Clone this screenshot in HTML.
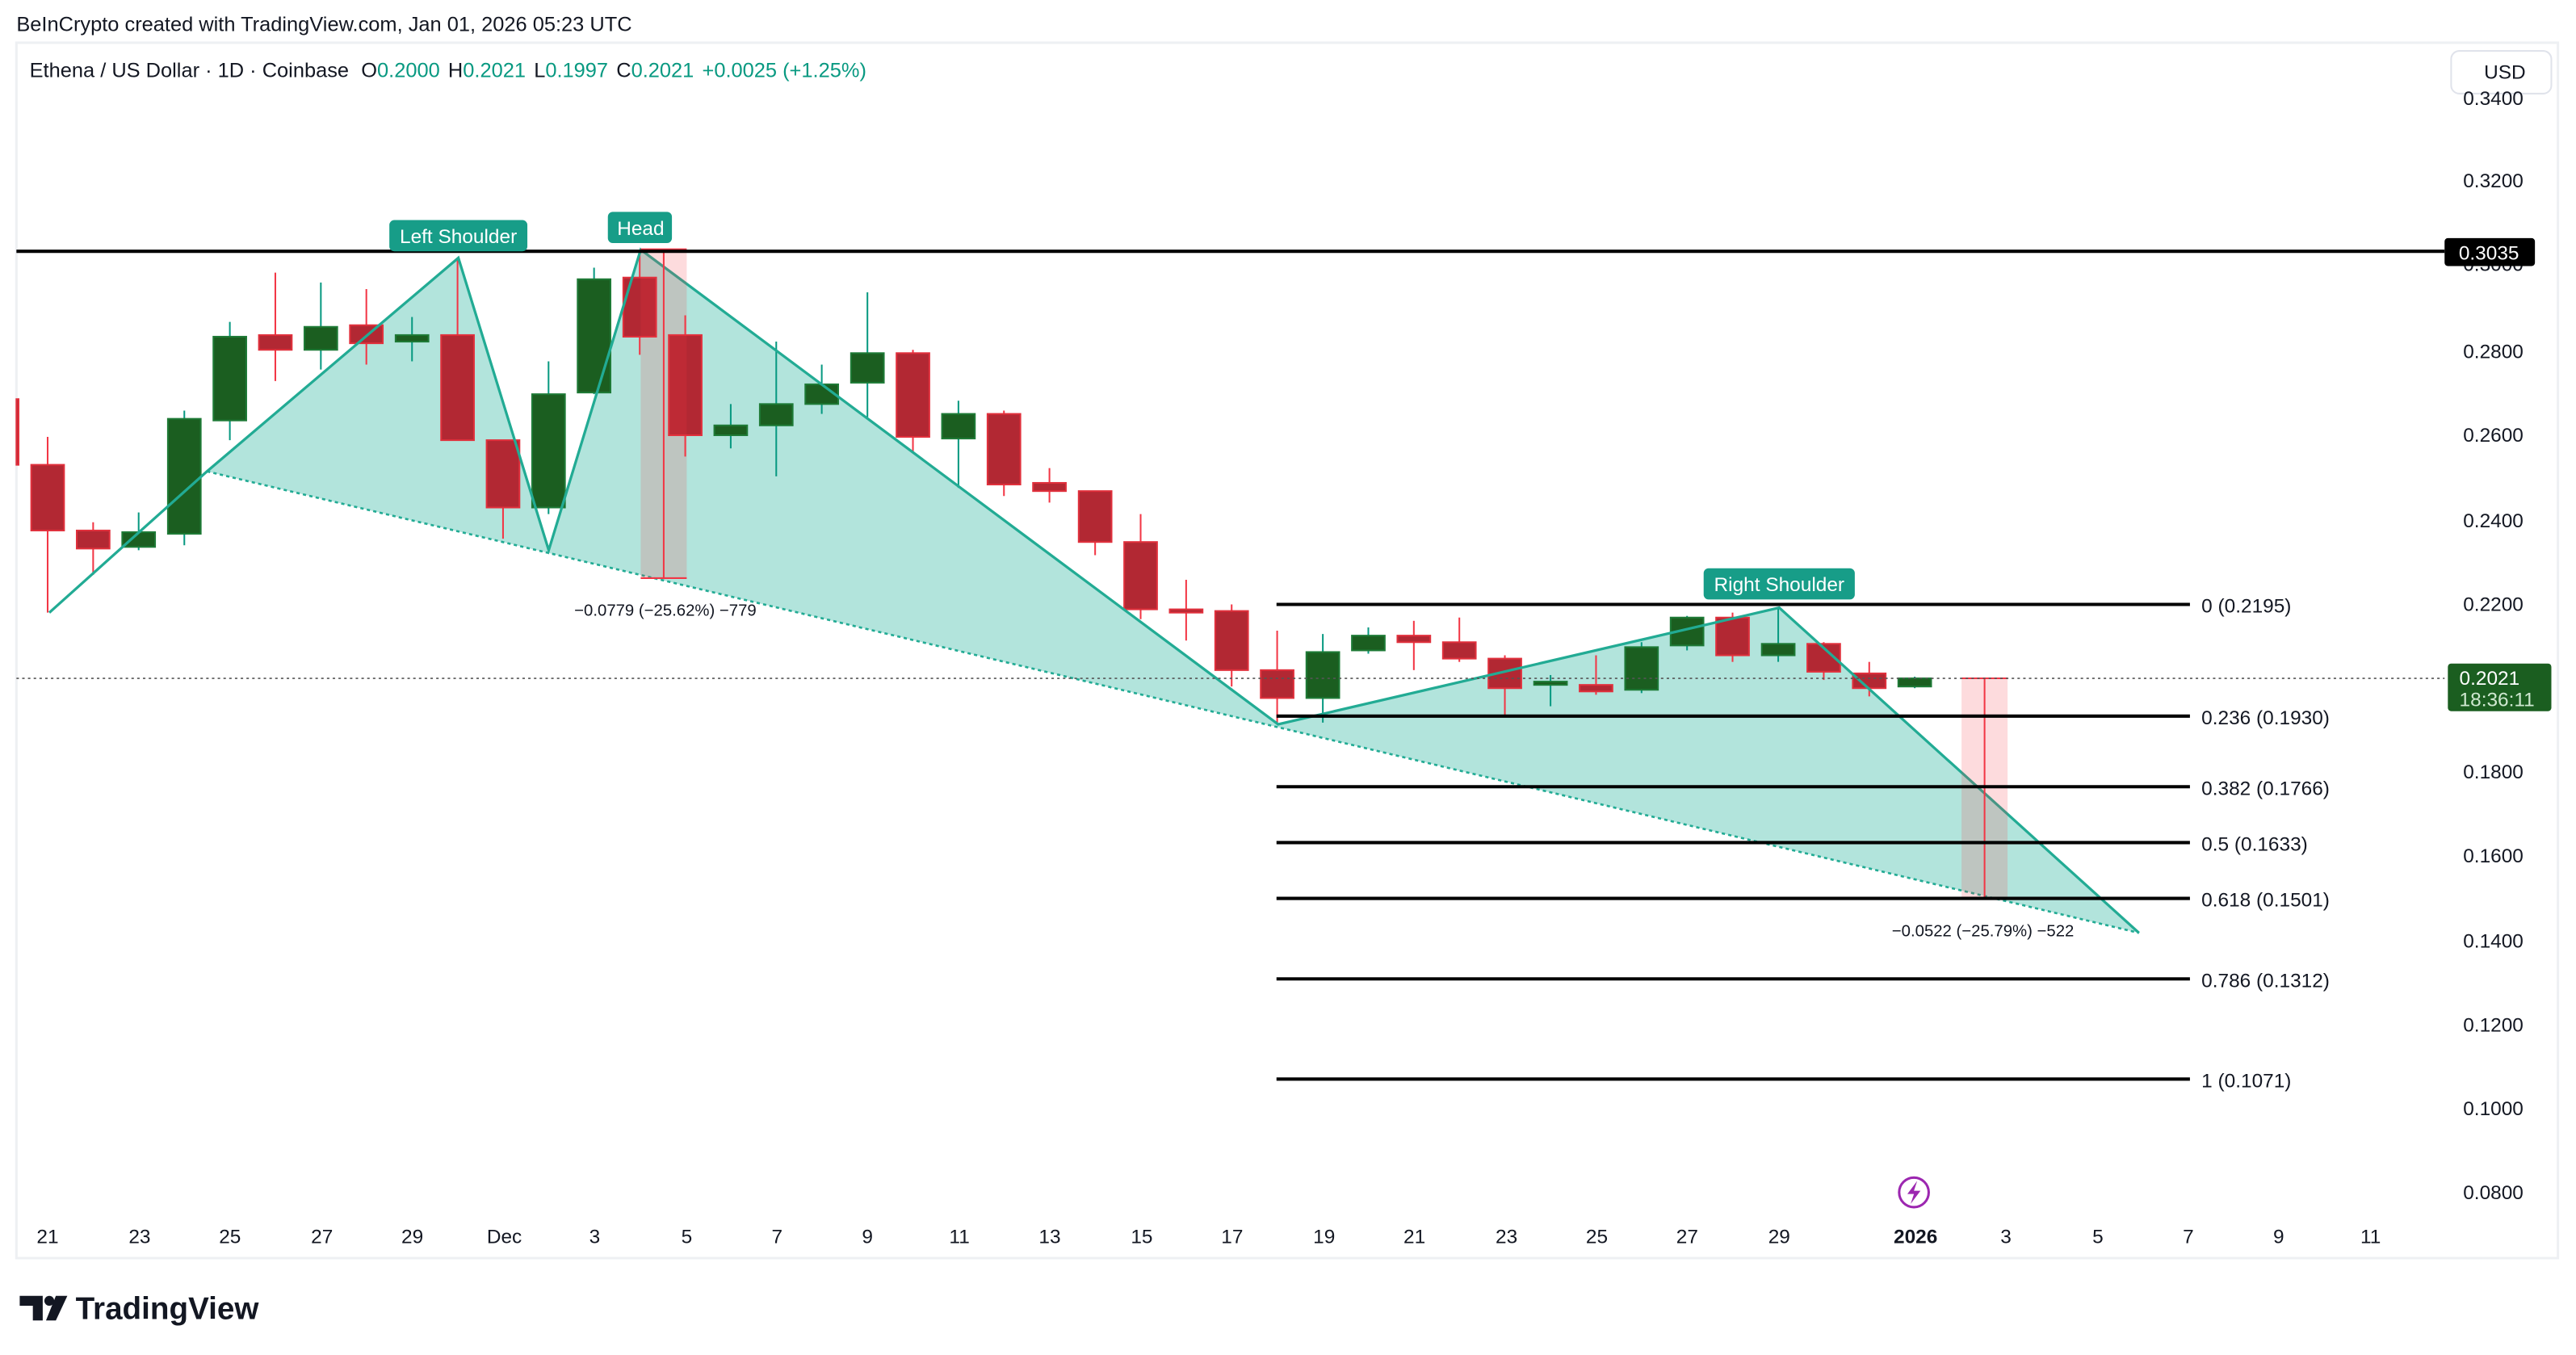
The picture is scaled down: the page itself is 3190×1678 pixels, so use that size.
<!DOCTYPE html>
<html><head><meta charset="utf-8"><style>
html,body{margin:0;padding:0;background:#fff}
svg{display:block}
text{font-family:"Liberation Sans",Arial,sans-serif}
</style></head><body>
<svg width="3190" height="1678" viewBox="0 0 1568 825" preserveAspectRatio="none" xmlns="http://www.w3.org/2000/svg">
<rect width="1568" height="825" fill="#fff"/>
<text x="10" y="19" font-size="12.5" fill="#131722">BeInCrypto created with TradingView.com, Jan 01, 2026 05:23 UTC</text>
<rect x="10" y="26" width="1547" height="740" fill="none" stroke="#eef0f3" stroke-width="1.5"/>
<text x="18" y="47" font-size="12.5" fill="#131722">Ethena / US Dollar · 1D · Coinbase <tspan dx="4">O</tspan><tspan fill="#089981">0.2000</tspan><tspan dx="5">H</tspan><tspan fill="#089981">0.2021</tspan><tspan dx="5">L</tspan><tspan fill="#089981">0.1997</tspan><tspan dx="5">C</tspan><tspan fill="#089981">0.2021</tspan><tspan dx="5" fill="#089981">+0.0025 (+1.25%)</tspan></text>
<rect x="1492" y="31" width="61" height="26" rx="5" fill="#fff" stroke="#e0e3eb"/>
<text x="1512" y="48" font-size="12" fill="#131722">USD</text>
<g font-size="12" fill="#131722" text-anchor="end">
<text x="1536" y="64">0.3400</text><text x="1536" y="114">0.3200</text><text x="1536" y="165">0.3000</text>
<text x="1536" y="218">0.2800</text><text x="1536" y="269">0.2600</text><text x="1536" y="321">0.2400</text>
<text x="1536" y="372">0.2200</text><text x="1536" y="474">0.1800</text><text x="1536" y="525">0.1600</text>
<text x="1536" y="577">0.1400</text><text x="1536" y="628">0.1200</text><text x="1536" y="679">0.1000</text><text x="1536" y="730">0.0800</text>
</g>
<rect x="1488" y="145" width="55" height="17" rx="2" fill="#000"/>
<text x="1515" y="158" font-size="12" fill="#fff" text-anchor="middle">0.3035</text>
<!-- H&S fill -->
<polygon points="126,287 279,157 334,335 390,152 778,441 1083,370 1302,568" fill="#b2e4dc"/>
<!-- candles: wicks -->
<g stroke="#f23645" stroke-width="1">
<line x1="29" y1="266" x2="29" y2="373"/><line x1="56.7" y1="318" x2="56.7" y2="350"/>
<line x1="167.6" y1="166" x2="167.6" y2="232"/><line x1="223" y1="176" x2="223" y2="222"/>
<line x1="278.5" y1="157" x2="278.5" y2="268"/><line x1="306.2" y1="268" x2="306.2" y2="328"/>
<line x1="389.4" y1="152" x2="389.4" y2="216"/><line x1="417.1" y1="192" x2="417.1" y2="278"/>
<line x1="555.7" y1="213" x2="555.7" y2="276"/><line x1="611.1" y1="250" x2="611.1" y2="302"/>
<line x1="638.8" y1="285" x2="638.8" y2="306"/><line x1="666.6" y1="299" x2="666.6" y2="338"/>
<line x1="694.3" y1="313" x2="694.3" y2="377"/><line x1="722" y1="353" x2="722" y2="390"/>
<line x1="749.7" y1="368" x2="749.7" y2="418"/><line x1="777.4" y1="384" x2="777.4" y2="440"/>
<line x1="860.6" y1="378" x2="860.6" y2="408"/><line x1="888.3" y1="376" x2="888.3" y2="403"/>
<line x1="916" y1="399" x2="916" y2="436"/><line x1="971.5" y1="399" x2="971.5" y2="423"/>
<line x1="1054.6" y1="373" x2="1054.6" y2="403"/><line x1="1110.1" y1="391" x2="1110.1" y2="414"/>
<line x1="1137.8" y1="403" x2="1137.8" y2="424"/>
</g>
<g stroke="#089981" stroke-width="1">
<line x1="84.4" y1="312" x2="84.4" y2="335"/><line x1="112.2" y1="250" x2="112.2" y2="332"/>
<line x1="139.9" y1="196" x2="139.9" y2="268"/><line x1="195.3" y1="172" x2="195.3" y2="225"/>
<line x1="250.8" y1="193" x2="250.8" y2="220"/><line x1="333.9" y1="220" x2="333.9" y2="313"/>
<line x1="361.6" y1="163" x2="361.6" y2="240"/><line x1="444.8" y1="246" x2="444.8" y2="273"/>
<line x1="472.5" y1="208" x2="472.5" y2="290"/><line x1="500.2" y1="222" x2="500.2" y2="252"/>
<line x1="528" y1="178" x2="528" y2="254"/><line x1="583.4" y1="244" x2="583.4" y2="297"/>
<line x1="805.2" y1="386" x2="805.2" y2="440"/><line x1="832.9" y1="382" x2="832.9" y2="398"/>
<line x1="943.8" y1="411" x2="943.8" y2="430"/><line x1="999.2" y1="391" x2="999.2" y2="422"/>
<line x1="1026.9" y1="375" x2="1026.9" y2="396"/><line x1="1082.4" y1="370" x2="1082.4" y2="403"/>
<line x1="1165.5" y1="412" x2="1165.5" y2="419"/>
</g>
<g fill="#b22833" stroke="#e0303c" stroke-width="1">
<rect x="10" y="243" width="1.3" height="40"/>
<rect x="19" y="283" width="20" height="40"/><rect x="46.7" y="323" width="20" height="11"/>
<rect x="157.6" y="204" width="20" height="9"/><rect x="213" y="198" width="20" height="11"/>
<rect x="268.5" y="204" width="20" height="64"/><rect x="296.2" y="268" width="20" height="41"/>
<rect x="379.4" y="169" width="20" height="36"/><rect x="407.1" y="204" width="20" height="61"/>
<rect x="545.7" y="215" width="20" height="51"/><rect x="601.1" y="252" width="20" height="43"/>
<rect x="628.8" y="294" width="20" height="5"/><rect x="656.6" y="299" width="20" height="31"/>
<rect x="684.3" y="330" width="20" height="41"/><rect x="712" y="371" width="20" height="2"/>
<rect x="739.7" y="372" width="20" height="36"/><rect x="767.4" y="408" width="20" height="17"/>
<rect x="850.6" y="387" width="20" height="4"/><rect x="878.3" y="391" width="20" height="10"/>
<rect x="906" y="401" width="20" height="18"/><rect x="961.5" y="417" width="20" height="4"/>
<rect x="1044.6" y="376" width="20" height="23"/><rect x="1100.1" y="392" width="20" height="17"/>
<rect x="1127.8" y="410" width="20" height="9"/>
</g>
<g fill="#1b5e20" stroke="#1e7a36" stroke-width="1">
<rect x="74.4" y="324" width="20" height="9"/><rect x="102.2" y="255" width="20" height="70"/>
<rect x="129.9" y="205" width="20" height="51"/><rect x="185.3" y="199" width="20" height="14"/>
<rect x="240.8" y="204" width="20" height="4"/><rect x="323.9" y="240" width="20" height="69"/>
<rect x="351.6" y="170" width="20" height="69"/><rect x="434.8" y="259" width="20" height="6"/>
<rect x="462.5" y="246" width="20" height="13"/><rect x="490.2" y="234" width="20" height="12"/>
<rect x="518" y="215" width="20" height="18"/><rect x="573.4" y="252" width="20" height="15"/>
<rect x="795.2" y="397" width="20" height="28"/><rect x="822.9" y="387" width="20" height="9"/>
<rect x="933.8" y="415" width="20" height="2"/><rect x="989.2" y="394" width="20" height="26"/>
<rect x="1016.9" y="376" width="20" height="17"/><rect x="1072.4" y="392" width="20" height="7"/>
<rect x="1155.5" y="413" width="20" height="5"/>
</g>
<polyline points="30,373 126,287 279,157 334,335 390,152 778,441 1083,370 1302,568" fill="none" stroke="#22ab94" stroke-width="1.6"/>
<line x1="126" y1="287" x2="1302" y2="568" stroke="#22ab94" stroke-width="1.3" stroke-dasharray="2,2"/>
<!-- measure boxes -->
<rect x="390" y="152" width="28" height="200" fill="#f23645" fill-opacity="0.18"/>
<line x1="404" y1="152" x2="404" y2="352" stroke="#f23645" stroke-width="1"/>
<line x1="390" y1="152" x2="418" y2="152" stroke="#f23645" stroke-width="1.5"/>
<line x1="390" y1="352" x2="418" y2="352" stroke="#f23645" stroke-width="1"/>
<text x="405" y="375" font-size="10" fill="#131722" text-anchor="middle">−0.0779 (−25.62%) −779</text>
<rect x="1194" y="413" width="28" height="134" fill="#f23645" fill-opacity="0.18"/>
<line x1="1208" y1="413" x2="1208" y2="547" stroke="#f23645" stroke-width="1"/>
<line x1="1194" y1="413" x2="1222" y2="413" stroke="#f23645" stroke-width="1"/>
<text x="1207" y="570" font-size="10" fill="#131722" text-anchor="middle">−0.0522 (−25.79%) −522</text>
<!-- lines -->
<line x1="10" y1="153" x2="1488" y2="153" stroke="#000" stroke-width="2"/>
<line x1="10" y1="413" x2="1488" y2="413" stroke="#555" stroke-width="0.8" stroke-dasharray="1.5,2"/>
<g stroke="#000" stroke-width="2">
<line x1="777" y1="368" x2="1333" y2="368"/><line x1="777" y1="436" x2="1333" y2="436"/>
<line x1="777" y1="479" x2="1333" y2="479"/><line x1="777" y1="513" x2="1333" y2="513"/>
<line x1="777" y1="547" x2="1333" y2="547"/><line x1="777" y1="596" x2="1333" y2="596"/>
<line x1="777" y1="657" x2="1333" y2="657"/>
</g>
<g font-size="12" fill="#131722">
<text x="1340" y="373">0 (0.2195)</text><text x="1340" y="441">0.236 (0.1930)</text>
<text x="1340" y="484">0.382 (0.1766)</text><text x="1340" y="518">0.5 (0.1633)</text>
<text x="1340" y="552">0.618 (0.1501)</text><text x="1340" y="601">0.786 (0.1312)</text>
<text x="1340" y="662">1 (0.1071)</text>
</g>
<rect x="1490" y="404" width="63" height="29" rx="2" fill="#1b5e20"/>
<text x="1497" y="417" font-size="12" fill="#fff">0.2021</text>
<text x="1497" y="430" font-size="12" fill="#cfe8d0">18:36:11</text>
<!-- labels -->
<rect x="237" y="134" width="84" height="19" rx="3" fill="#179d88"/>
<text x="279" y="148" font-size="12" fill="#fff" text-anchor="middle">Left Shoulder</text>
<rect x="370" y="129" width="39" height="19" rx="3" fill="#179d88"/>
<text x="390" y="143" font-size="12" fill="#fff" text-anchor="middle">Head</text>
<rect x="1037" y="346" width="92" height="19" rx="3" fill="#179d88"/>
<text x="1083" y="360" font-size="12" fill="#fff" text-anchor="middle">Right Shoulder</text>
<!-- time axis -->
<g font-size="12" fill="#131722" text-anchor="middle">
<text x="29" y="757">21</text><text x="85" y="757">23</text><text x="140" y="757">25</text><text x="196" y="757">27</text>
<text x="251" y="757">29</text><text x="307" y="757">Dec</text><text x="362" y="757">3</text><text x="418" y="757">5</text>
<text x="473" y="757">7</text><text x="528" y="757">9</text><text x="584" y="757">11</text><text x="639" y="757">13</text>
<text x="695" y="757">15</text><text x="750" y="757">17</text><text x="806" y="757">19</text><text x="861" y="757">21</text>
<text x="917" y="757">23</text><text x="972" y="757">25</text><text x="1027" y="757">27</text><text x="1083" y="757">29</text>
<text x="1166" y="757" font-weight="bold">2026</text><text x="1221" y="757">3</text><text x="1277" y="757">5</text>
<text x="1332" y="757">7</text><text x="1387" y="757">9</text><text x="1443" y="757">11</text>
</g>
<circle cx="1165" cy="726" r="9" fill="none" stroke="#9c27b0" stroke-width="1.5"/>
<path d="M1167,719 L1161,727 L1165,727 L1163,733 L1169,725 L1165,725 Z" fill="#9c27b0"/>
<!-- logo -->
<path d="M12,789 h14 v15 h-6 v-9 h-8 z" fill="#131722"/>
<circle cx="30" cy="792" r="3" fill="#131722"/>
<path d="M34,789 h7 l-7,15 h-6 z" fill="#131722"/>
<text x="46" y="803" font-size="19" font-weight="bold" fill="#131722">TradingView</text>
</svg>
</body></html>
